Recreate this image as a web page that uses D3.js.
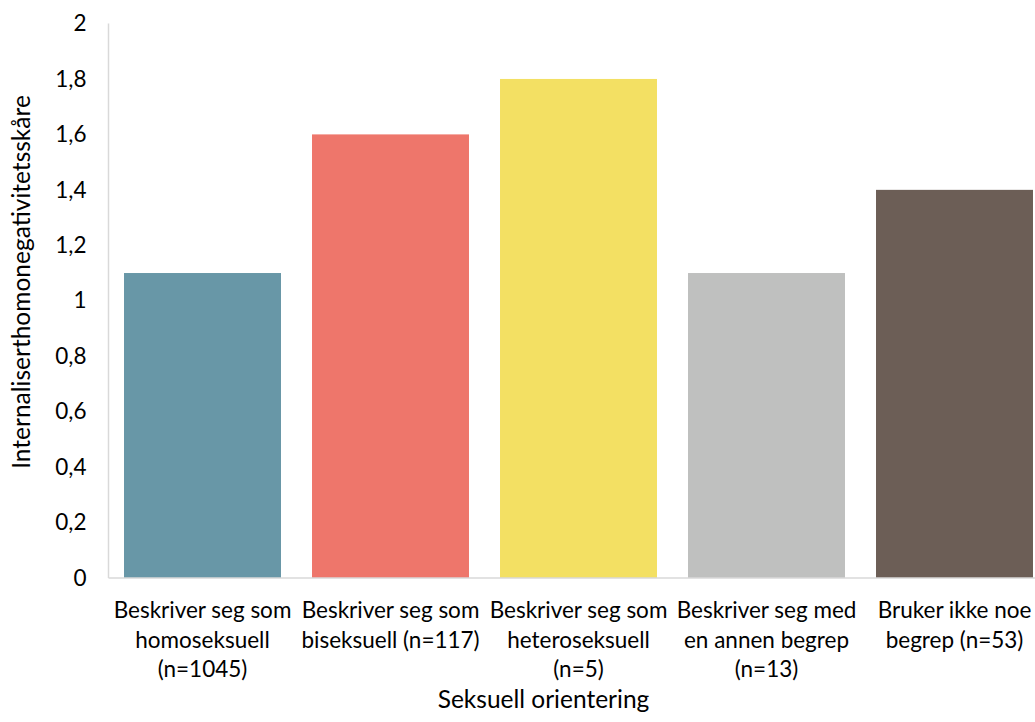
<!DOCTYPE html>
<html>
<head>
<meta charset="utf-8">
<script src="https://cdn.jsdelivr.net/npm/d3@7"></script>
<style>
  html, body { margin: 0; padding: 0; background: #fff; }
  svg { display: block; }
  text { font-family: Lato, "Open Sans", sans-serif; fill: #000; }
</style>
</head>
<body>
<svg id="chart" width="1035" height="722"></svg>
<script>
// Category labels (line breaks as drawn under each bar)
const categories = [
  "Beskriver seg som\nhomoseksuell\n(n=1045)",
  "Beskriver seg som\nbiseksuell (n=117)",
  "Beskriver seg som\nheteroseksuell\n(n=5)",
  "Beskriver seg med\nen annen begrep\n(n=13)",
  "Bruker ikke noe\nbegrep (n=53)"
];
const values = [1.1, 1.6, 1.8, 1.1, 1.4];
const colors = ["#6897A7", "#EE766B", "#F3E063", "#BFC0BF", "#6C5E56"];
const yTicks = [0, 0.2, 0.4, 0.6, 0.8, 1, 1.2, 1.4, 1.6, 1.8, 2];
const yTitle = "Internaliserthomonegativitetsskåre";
const xTitle = "Seksuell orientering";

const svg = d3.select("#chart");
const plot = { left: 108.5, right: 1048.5, top: 23.5, bottom: 578 };

const x = d3.scaleBand()
  .domain(categories)
  .range([plot.left, plot.right])
  .paddingInner(0.165)
  .paddingOuter(0.0825);

const y = d3.scaleLinear()
  .domain([0, 2])
  .range([plot.bottom, plot.top]);

const fmt = v => d3.format("~g")(v).replace(".", ",");

// Y axis: labels only, plus a light axis line
const yAxis = d3.axisLeft(y).tickValues(yTicks).tickFormat(fmt).tickSize(0).tickPadding(22);
const gy = svg.append("g").attr("transform", `translate(${plot.left},0)`).call(yAxis);
gy.select(".domain").remove();
gy.selectAll("text").style("font-size", "22.5px").style("font-family", "Lato, sans-serif").attr("fill", "#000");

svg.append("line")
  .attr("x1", plot.left).attr("x2", plot.left)
  .attr("y1", plot.top).attr("y2", plot.bottom)
  .attr("stroke", "#d9d9d9").attr("stroke-width", 1.5);

// Bars
svg.append("g").selectAll("rect")
  .data(values)
  .join("rect")
  .attr("x", (d, i) => x(categories[i]))
  .attr("width", x.bandwidth())
  .attr("y", d => y(d))
  .attr("height", d => y(0) - y(d))
  .attr("fill", (d, i) => colors[i]);

// Baseline
svg.append("line")
  .attr("x1", plot.left).attr("x2", 1035)
  .attr("y1", plot.bottom).attr("y2", plot.bottom)
  .attr("stroke", "#d9d9d9").attr("stroke-width", 1.5);

// X category labels
const xAxis = d3.axisBottom(x).tickSize(0).tickFormat("");
const gx = svg.append("g").attr("transform", `translate(0,${plot.bottom})`).call(xAxis);
gx.select(".domain").remove();
gx.selectAll(".tick").each(function(d) {
  const t = d3.select(this).append("text")
    .attr("text-anchor", "middle")
    .style("font-size", "22.5px");
  d.split("\n").forEach((line, k) => {
    t.append("tspan").attr("x", 0).attr("y", 40 + k * 29.5).text(line);
  });
});

// Axis titles
svg.append("text")
  .attr("transform", "translate(30,282) rotate(-90)")
  .attr("text-anchor", "middle")
  .style("font-size", "24.5px")
  .text(yTitle);

svg.append("text")
  .attr("x", 543.5).attr("y", 708)
  .attr("text-anchor", "middle")
  .style("font-size", "24.5px")
  .text(xTitle);
</script>
</body>
</html>
